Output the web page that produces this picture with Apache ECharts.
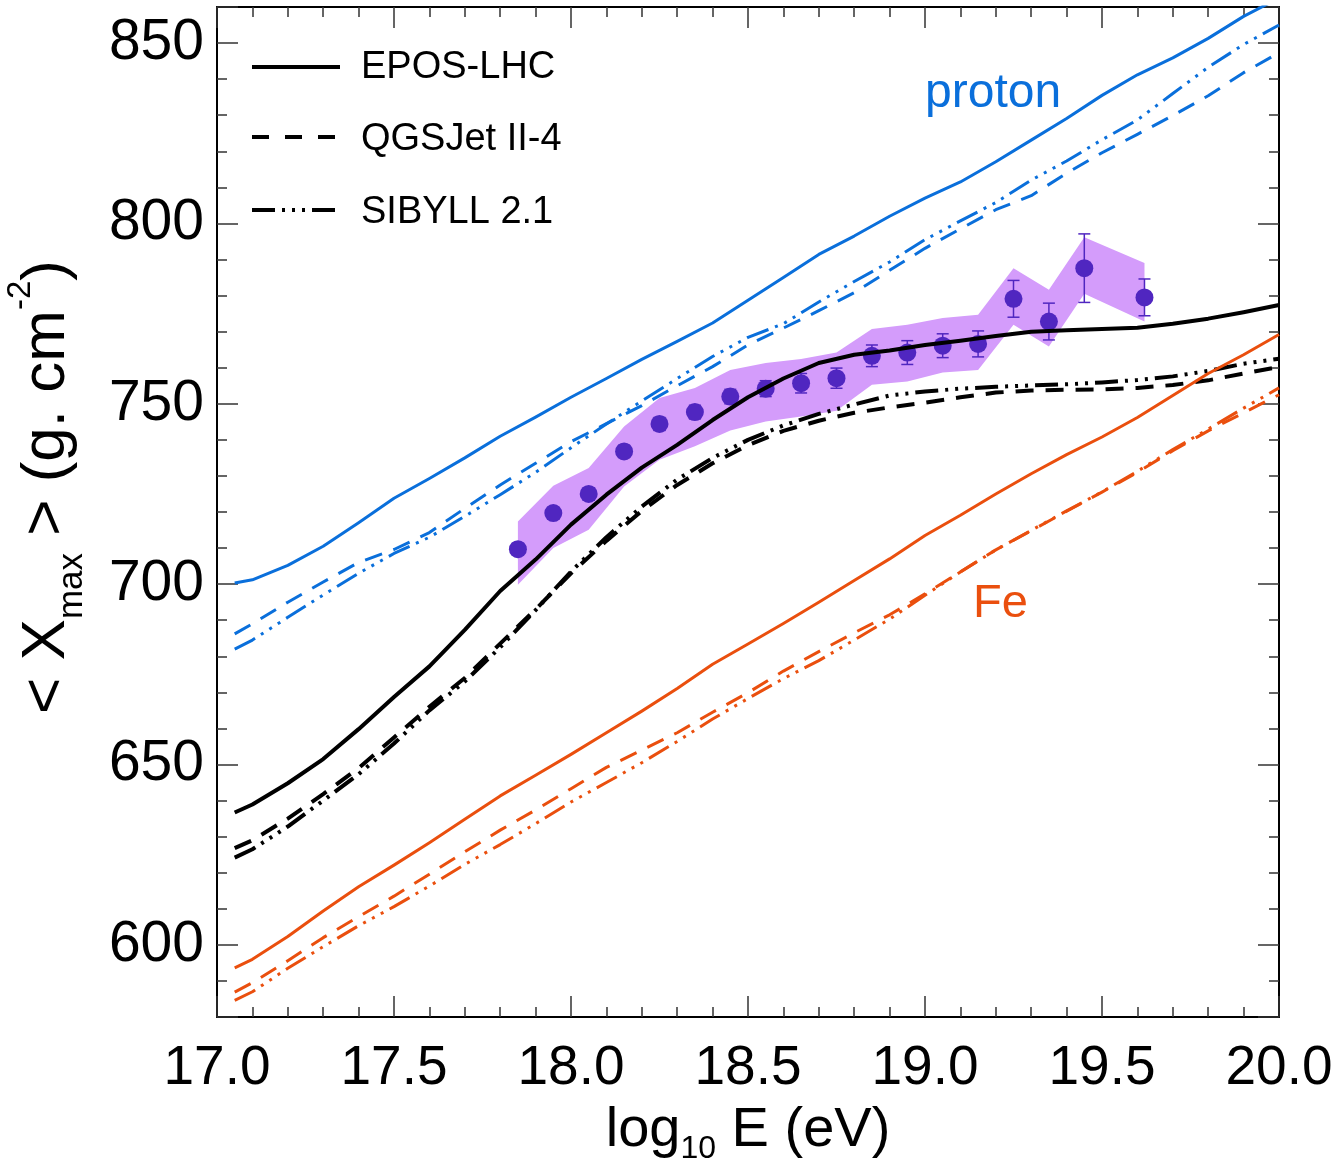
<!DOCTYPE html>
<html><head><meta charset="utf-8">
<script src="https://cdn.jsdelivr.net/npm/echarts@6/dist/echarts.min.js"></script>
<style>html,body{margin:0;padding:0;background:#fff}#c{width:1339px;height:1164px}</style>
</head><body><div id="c"></div>
<script>
// ---------- data ----------
const xGrid = [17.05,17.1,17.2,17.3,17.4,17.5,17.6,17.7,17.8,17.9,18.0,18.1,18.2,18.3,18.4,18.5,18.6,18.7,18.8,18.9,19.0,19.1,19.2,19.3,19.4,19.5,19.6,19.7,19.8,19.9,20.0];
// proton
const pEPOS = [700.3,701.2,705.2,710.5,717.0,723.8,729.3,735.0,741.0,746.3,751.8,757.0,762.3,767.3,772.4,778.7,785.0,791.4,796.5,802.0,807.0,811.5,817.1,823.1,829.1,835.5,841.2,845.9,851.3,857.4,862.5];
const pQGS  = [686.2,689.0,695.0,700.6,706.0,709.6,714.3,721.0,727.5,733.5,739.5,744.5,749.5,755.0,760.3,766.3,771.0,775.8,780.8,787.0,793.1,798.5,803.8,807.7,813.9,819.6,824.7,829.9,835.4,841.8,847.3];
const pSIB  = [682.0,684.5,690.8,697.0,703.0,708.5,713.0,718.8,724.8,731.0,737.8,744.4,750.8,757.0,763.1,768.4,772.2,778.2,783.9,789.3,795.5,800.7,805.8,812.0,817.3,823.2,828.7,836.0,843.3,849.6,855.0];
// black (mixed)
const bEPOS = [636.7,638.9,644.8,651.5,659.8,668.7,677.2,687.3,698.1,706.8,716.5,724.8,732.3,738.6,745.5,751.8,757.0,761.3,763.6,764.8,766.3,767.5,768.8,770.0,770.4,770.7,771.1,772.2,773.6,775.4,777.4];
const bQGS  = [626.8,629.0,635.0,641.8,649.0,657.5,666.0,674.0,683.5,693.0,703.0,712.0,720.3,727.5,733.5,738.5,742.5,745.3,747.5,749.0,750.3,751.8,753.1,753.7,753.9,754.0,754.4,755.2,756.5,758.4,760.2];
const bSIB  = [624.2,626.5,632.8,640.0,647.3,655.8,665.0,673.0,682.5,692.8,703.5,713.0,721.5,729.0,735.0,740.0,744.0,747.2,749.8,752.3,753.4,754.2,754.7,755.1,755.4,755.9,756.6,757.6,759.1,761.1,762.5];
// iron
const fEPOS = [593.6,596.0,602.3,609.4,616.1,622.1,628.3,634.8,641.3,647.0,652.8,658.8,664.8,671.1,677.8,683.4,689.1,695.0,701.0,707.0,713.5,719.1,725.0,730.6,735.9,740.8,746.2,752.3,758.4,763.6,769.2];
const fQGS  = [586.9,589.5,595.6,602.0,607.8,613.5,619.6,625.8,631.8,637.4,643.3,649.2,654.0,658.8,664.5,669.9,675.9,681.3,686.5,691.5,697.3,703.4,709.5,714.8,720.2,725.5,731.0,737.0,742.5,747.5,752.5];
const fSIB  = [584.6,587.0,593.5,599.5,605.3,610.6,616.3,622.3,627.8,633.6,639.6,645.0,650.5,656.4,662.6,668.3,673.8,678.8,684.5,690.3,696.9,703.4,709.5,714.9,720.3,725.6,731.3,737.3,743.0,748.8,754.4];
// measurements
const dataX   = [17.85,17.95,18.05,18.15,18.25,18.35,18.45,18.55,18.65,18.75,18.85,18.95,19.05,19.15,19.25,19.35,19.45,19.62];
const dataY   = [709.7,719.7,725.0,736.8,744.4,747.7,752.0,754.2,755.7,757.1,763.3,764.2,766.1,766.6,779.1,772.8,787.6,779.5];
const dataErr = [1.6,1.6,1.7,1.7,1.8,1.9,2.0,2.2,2.7,2.8,3.0,3.3,3.3,3.6,5.1,5.1,9.5,5.1];
const sysUp   = [717.4,727.3,732.2,743.7,751.6,754.4,759.4,761.3,762.4,764.2,770.7,771.9,773.8,774.7,787.6,781.6,796.2,789.0];
const sysLo   = [699.8,710.0,715.1,727.1,734.5,738.2,742.6,745.1,746.5,748.1,755.3,756.2,758.7,759.4,771.9,765.9,780.5,772.8];
// axis ticks
const xTickLabels = ['17.0','17.5','18.0','18.5','19.0','19.5','20.0'];
const yTickLabels = [600,650,700,750,800,850];

// ---------- style ----------
const BLUE = '#0a6fdb', BLACK = '#000000', ORANGE = '#ea4f0e';
const BAND = '#d49cfb', PTS = '#5026c0';
const FONT = '"Liberation Sans", Arial, Helvetica, sans-serif';
const DASH = [18, 12];
const DASHDOT3 = [23, 7, 3, 7, 3, 7, 3, 7];

const chart = echarts.init(document.getElementById('c'), null, {renderer: 'canvas'});

function pairs(ys) { return xGrid.map((x, i) => [x, ys[i]]); }
function curve(ys, color, width, type) {
  return {type: 'line', data: pairs(ys), symbol: 'none', showSymbol: false, smooth: false,
    clip: true, silent: true, z: 5,
    lineStyle: {color: color, width: width, type: type, cap: 'butt', join: 'round'}};
}

const axisCommon = {
  axisLine: {show: true, onZero: false, lineStyle: {color: '#000', width: 2}},
  axisTick: {show: true, inside: true, length: 21, lineStyle: {color: '#333', width: 1.5}},
  minorTick: {show: true, splitNumber: 5, length: 10, lineStyle: {color: '#333', width: 1.5}},
  splitLine: {show: false}, minorSplitLine: {show: false}
};

const option = {
  animation: false,
  backgroundColor: '#fff',
  grid: {left: 217, top: 7, width: 1062, bottom: 147, containLabel: false, outerBoundsMode: 'none'},
  xAxis: [
    Object.assign({type: 'value', min: 17, max: 20, interval: 0.5, position: 'bottom',
      axisLabel: {show: true, fontSize: 55, fontFamily: FONT, color: '#000', margin: 24,
        formatter: v => { const i = Math.round((v - 17) / 0.5); return xTickLabels[i] || ''; }},
      name: '{a|log}{s|10}{a| E (eV)}', nameLocation: 'middle', nameGap: 80,
      nameTextStyle: {fontFamily: FONT, color: '#000', rich: {
        a: {fontSize: 56, fontFamily: FONT, color: '#000'},
        s: {fontSize: 32, fontFamily: FONT, color: '#000', lineHeight: 68, verticalAlign: 'bottom'}}}
    }, axisCommon),
    Object.assign({type: 'value', min: 17, max: 20, interval: 0.5, position: 'top',
      axisLabel: {show: false}}, axisCommon)
  ],
  yAxis: [
    Object.assign({type: 'value', min: 580, max: 860, splitNumber: 5, position: 'left',
      axisLabel: {show: true, fontSize: 57, fontFamily: FONT, color: '#000', margin: 13,
        formatter: v => yTickLabels.indexOf(v) >= 0 ? String(v) : ''},
      name: '{w| }{a|< X}{s|max}{a| > (g. cm}{p|-2}{a|)}', nameLocation: 'middle', nameGap: 127, nameRotate: 90,
      nameTextStyle: {fontFamily: FONT, color: '#000', rich: {
        w: {fontSize: 62, width: 50, lineHeight: 62},
        a: {fontSize: 62, fontFamily: FONT, color: '#000', lineHeight: 62},
        s: {fontSize: 35, fontFamily: FONT, color: '#000', lineHeight: 86, verticalAlign: 'bottom'},
        p: {fontSize: 33, fontFamily: FONT, color: '#000', verticalAlign: 'top'}}}
    }, axisCommon),
    Object.assign({type: 'value', min: 580, max: 860, splitNumber: 5, position: 'right',
      axisLabel: {show: false}}, axisCommon)
  ],
  graphic: [
    {type: 'line', shape: {x1: 252, y1: 67, x2: 340, y2: 67}, style: {stroke: '#000', lineWidth: 4}},
    {type: 'line', shape: {x1: 252, y1: 137, x2: 340, y2: 137}, style: {stroke: '#000', lineWidth: 4, lineDash: [17, 16]}},
    {type: 'line', shape: {x1: 252, y1: 210, x2: 337, y2: 210}, style: {stroke: '#000', lineWidth: 4, lineDash: DASHDOT3}},
    {type: 'text', x: 361, y: 68, style: {text: 'EPOS-LHC', font: '38px ' + FONT, fill: '#000', verticalAlign: 'middle'}},
    {type: 'text', x: 361, y: 140, style: {text: 'QGSJet II-4', font: '38px ' + FONT, fill: '#000', verticalAlign: 'middle'}},
    {type: 'text', x: 361, y: 213, style: {text: 'SIBYLL 2.1', font: '38px ' + FONT, fill: '#000', verticalAlign: 'middle'}},
    {type: 'text', x: 925, y: 94, style: {text: 'proton', font: '48px ' + FONT, fill: BLUE, verticalAlign: 'middle'}},
    {type: 'text', x: 973, y: 604, style: {text: 'Fe', font: '47px ' + FONT, fill: ORANGE, verticalAlign: 'middle'}}
  ],
  series: [
    {type: 'custom', z: 1, silent: true, clip: true,
      data: dataX.map((x, i) => [x, sysLo[i], sysUp[i]]),
      renderItem: function (params, api) {
        if (params.dataIndex !== 0) return null;
        const pts = [];
        for (let i = 0; i < dataX.length; i++) pts.push(api.coord([dataX[i], sysUp[i]]));
        for (let i = dataX.length - 1; i >= 0; i--) pts.push(api.coord([dataX[i], sysLo[i]]));
        return {type: 'polygon', shape: {points: pts}, style: {fill: BAND}};
      }},
    {type: 'custom', z: 2, silent: true,
      data: dataX.map((x, i) => [x, dataY[i], dataErr[i]]),
      renderItem: function (params, api) {
        const x = api.value(0), y = api.value(1), e = api.value(2);
        const t = api.coord([x, y + e]), b = api.coord([x, y - e]);
        const hw = 6, st = {stroke: PTS, lineWidth: 1.5};
        return {type: 'group', children: [
          {type: 'line', shape: {x1: t[0], y1: t[1], x2: b[0], y2: b[1]}, style: st},
          {type: 'line', shape: {x1: t[0] - hw, y1: t[1], x2: t[0] + hw, y2: t[1]}, style: st},
          {type: 'line', shape: {x1: b[0] - hw, y1: b[1], x2: b[0] + hw, y2: b[1]}, style: st}
        ]};
      }},
    {type: 'scatter', z: 3, silent: true, symbol: 'circle', symbolSize: 18,
      itemStyle: {color: PTS, opacity: 1}, data: dataX.map((x, i) => [x, dataY[i]])},
    curve(pEPOS, BLUE, 3, 'solid'),
    curve(pQGS, BLUE, 3, DASH),
    curve(pSIB, BLUE, 3, DASHDOT3),
    curve(bEPOS, BLACK, 4, 'solid'),
    curve(bQGS, BLACK, 4, DASH),
    curve(bSIB, BLACK, 4, DASHDOT3),
    curve(fEPOS, ORANGE, 3, 'solid'),
    curve(fQGS, ORANGE, 3, DASH),
    curve(fSIB, ORANGE, 3, DASHDOT3)
  ]
};
chart.setOption(option);
</script>
</body></html>
